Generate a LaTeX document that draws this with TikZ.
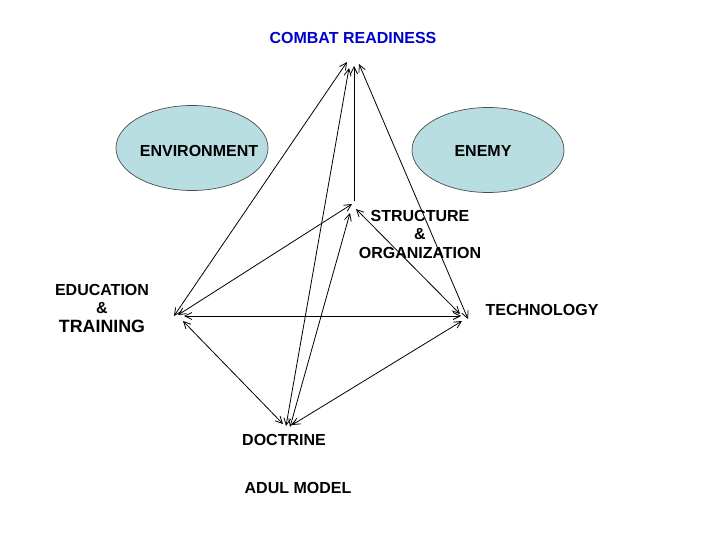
\documentclass[tikz,border=0pt]{standalone}
\usepackage{fontspec}
\setmainfont{Liberation Sans}
\usetikzlibrary{arrows.meta, positioning, shapes.geometric}
\definecolor{ReadyBlue}{RGB}{0,0,204}
\definecolor{PaleCyan}{RGB}{185,222,226}

\begin{document}
\begin{tikzpicture}[x=1pt, y=-1pt,
  blob/.style={ellipse, draw=black!70, fill=PaleCyan, line width=0.7pt,
               minimum width=152pt, minimum height=85pt, inner sep=0pt},
  lbl/.style={font=\fontsize{16}{18.5}\selectfont\bfseries, align=center},
  arr/.style={{Straight Barb[length=7pt,width=7pt]}-{Straight Barb[length=7pt,width=7pt]},
              line width=0.8pt},
  uparr/.style={-{Straight Barb[length=7pt,width=7pt]}, line width=0.8pt},
]
\useasboundingbox (0,0) rectangle (720,540);

% ellipses
\node[blob] (env) at (192,148) {};
\node[blob] (enemy) at (488,150) {};

% labels
\node[lbl, text=ReadyBlue] (ready) at (353,38) {COMBAT READINESS};
\node[lbl] (envtxt) at (199,151) {ENVIRONMENT};
\node[lbl] (enemytxt) at (483,151) {ENEMY};
\node[lbl] (struct) at (420,234) {STRUCTURE\\\&\\ORGANIZATION};
\node[lbl] (edu) at (102,308) {EDUCATION\\\&\\{\fontsize{17.8}{18.5}\selectfont TRAINING}};
\node[lbl] (tech) at (542,310) {TECHNOLOGY};
\node[lbl] (doc) at (284,440) {DOCTRINE};
\node[lbl] (model) at (298,488) {ADUL MODEL};

% corner points
\coordinate (top-e) at (347,62);
\coordinate (top-d) at (349,68);
\coordinate (top-s) at (354,66);
\coordinate (top-t) at (359,64);
\coordinate (str-e) at (352,204);
\coordinate (str-d) at (350,213);
\coordinate (str-t) at (356,209);
\coordinate (str-base) at (354,201);
\coordinate (edu-t) at (174,316);
\coordinate (edu-s) at (178,315);
\coordinate (edu-h) at (184,316);
\coordinate (edu-d) at (183,321);
\coordinate (tech-h) at (461,316);
\coordinate (tech-s) at (460,314);
\coordinate (tech-d) at (462,321);
\coordinate (tech-t) at (468,319);
\coordinate (doc-e) at (283,424);
\coordinate (doc-t) at (292,425);
\coordinate (doc-a) at (286,426);
\coordinate (doc-s) at (290,427);

% connectors
\draw[arr] (edu-t) -- (top-e);
\draw[arr] (edu-s) -- (str-e);
\draw[arr] (edu-h) -- (tech-h);
\draw[arr] (edu-d) -- (doc-e);
\draw[arr] (doc-t) -- (tech-d);
\draw[arr] (doc-a) -- (top-d);
\draw[arr] (doc-s) -- (str-d);
\draw[uparr] (str-base) -- (top-s);
\draw[arr] (tech-s) -- (str-t);
\draw[arr] (tech-t) -- (top-t);
\end{tikzpicture}
\end{document}
